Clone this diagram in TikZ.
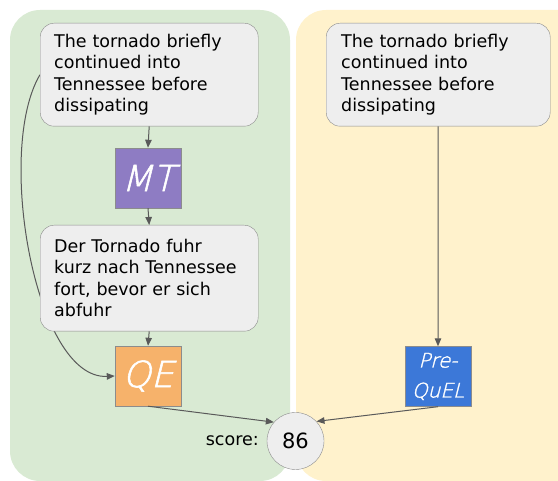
\documentclass[tikz,border=0pt]{standalone}
\usepackage{fontspec}
\setmainfont{DejaVu Sans}
\newfontfamily\handfont{DejaVu Sans ExtraLight}[FakeSlant=0.25,FakeBold=1.5]
\usetikzlibrary{arrows.meta}
\hyphenpenalty=10000
\exhyphenpenalty=10000
\pgfdeclarelayer{bg}
\pgfdeclarelayer{panel}
\pgfsetlayers{panel,bg,main}
\definecolor{panelgreen}{HTML}{D9EAD3}
\definecolor{panelyellow}{HTML}{FFF2CC}
\definecolor{boxfill}{HTML}{EEEEEE}
\definecolor{boxline}{HTML}{8C8C8C}
\definecolor{arrowcol}{HTML}{595959}
\definecolor{mtcol}{HTML}{8E7CC3}
\definecolor{qecol}{HTML}{F6B26B}
\definecolor{pqcol}{HTML}{3C78D8}
\tikzset{
  textbox/.style={draw=boxline, fill=boxfill, rounded corners=14pt, anchor=north west,
    text width=192pt, inner xsep=14pt, inner ysep=0pt, minimum height=103pt, align=left,
    font=\fontsize{17.5pt}{21.5pt}\selectfont},
  modelbox/.style={draw=boxline, line width=0.4pt, minimum width=66pt, minimum height=60pt,
    inner sep=0pt, text=white, align=center},
  conn/.style={draw=arrowcol, line width=1pt, -{Triangle[length=8pt,width=6.5pt]}},
}
\begin{document}
\begin{tikzpicture}[x=1pt,y=-1pt]
\useasboundingbox (0,0) rectangle (558,481);
% nodes
\node[textbox, text width=190pt] (src1) at (40,23) {The tornado briefly continued into Tennessee before dissipating};
\node[modelbox, fill=mtcol, font=\handfont\fontsize{36pt}{36pt}\selectfont] (mt) at (148,178) {MT};
\node[textbox, text width=190pt, minimum height=106pt] (mtout) at (40,225) {Der Tornado fuhr kurz nach Tennessee fort, bevor er sich abfuhr};
\node[modelbox, fill=qecol, font=\handfont\fontsize{36pt}{36pt}\selectfont] (qe) at (148,376) {QE};
\node[textbox, text width=194pt, inner xsep=15pt] (src2) at (326,23) {The tornado briefly continued into Tennessee before dissipating};
\node[modelbox, fill=pqcol, font=\handfont\fontsize{20pt}{30pt}\selectfont] (pq) at (438,376.5) {Pre-\\QuEL};
\node[circle, draw=boxline, fill=boxfill, minimum size=57pt, inner sep=0pt,
  font=\fontsize{21pt}{21pt}\selectfont] (score) at (295.5,441) {86};
\node[anchor=east, inner sep=0pt, font=\fontsize{17.5pt}{20pt}\selectfont] (scorelbl) at (259,441) {score:};
% connectors
\draw[conn] (src1.south) -- (mt.north);
\draw[conn] (mt.south) -- (mtout.north);
\draw[conn] (mtout.south) -- (qe.north);
\draw[conn] (src2.south) -- (pq.north);
\draw[conn] (qe.south) -- (score.139);
\draw[conn] (pq.south) -- (score.43);
\begin{pgfonlayer}{bg}
\draw[conn] (src1.west) .. controls (-5,150) and (35,380) .. (qe.west);
\end{pgfonlayer}
\begin{pgfonlayer}{panel}
\fill[panelgreen, rounded corners=30pt] (10,10) rectangle (290,481);
\fill[panelyellow, rounded corners=30pt] (296,10) rectangle (588,481);
\end{pgfonlayer}
\end{tikzpicture}
\end{document}
